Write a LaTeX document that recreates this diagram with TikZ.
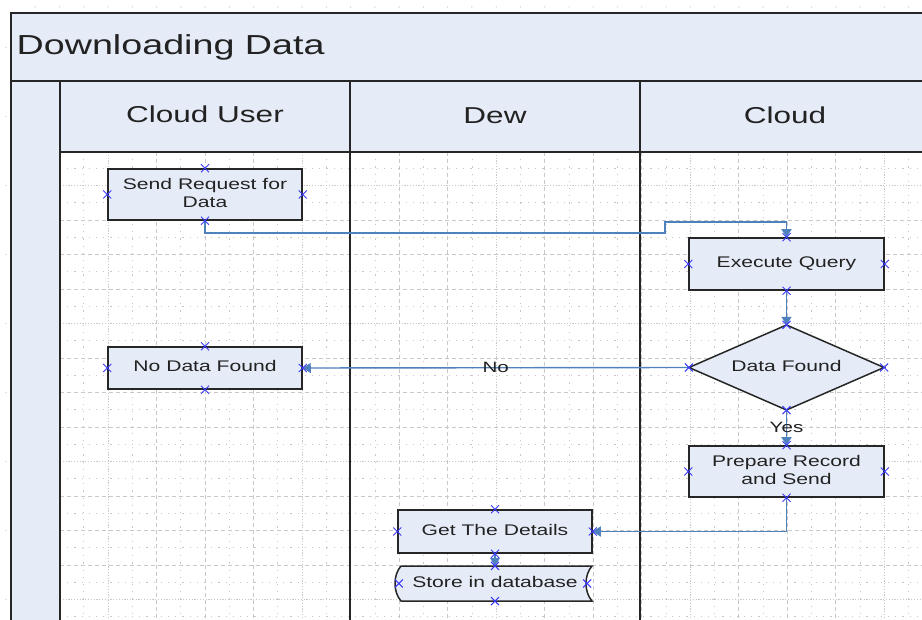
\documentclass[tikz,border=0pt]{standalone}
\usepackage{fontspec}
\usepackage{graphicx}
\setmainfont{Liberation Sans}
\usetikzlibrary{arrows.meta,shapes.misc}

\definecolor{laneFill}{RGB}{230,236,247}
\definecolor{edgeDark}{RGB}{38,38,38}
\definecolor{inkText}{RGB}{34,34,34}
\definecolor{connBlue}{RGB}{79,129,189}
\definecolor{pinBlue}{RGB}{58,58,255}
\definecolor{gridGray}{RGB}{200,200,200}

% wide sans text, as the chart is drawn stretched sideways
\newcommand{\stretched}[1]{\scalebox{1.37}[1]{#1}}
\newcommand{\boxtext}[1]{\stretched{\fontsize{15.4}{18}\selectfont\begin{tabular}{@{}c@{}}#1\end{tabular}}}

\tikzset{
  poolline/.style={draw=edgeDark, line width=1.8pt},
  shapeline/.style={draw=edgeDark, line width=1.5pt, fill=laneFill},
  stepbox/.style={shapeline, text=inkText, rectangle, inner sep=0pt, minimum width=194pt},
  anchorbox/.style={rectangle, inner sep=0pt, text=inkText},
  conn/.style={draw=connBlue, line width=1.4pt, -{Triangle[length=8pt,width=10pt]}},
  lbl/.style={text=inkText, inner sep=1pt, font=\fontsize{15}{18}\selectfont},
  pin/.style={cross out, draw=pinBlue, line width=1pt, minimum size=7pt, inner sep=0pt},
  gdense/.style={draw=gridGray, line width=0.8pt, dash pattern=on 1.2pt off 1.6pt},
  gdash/.style={draw=gridGray, line width=0.8pt, dash pattern=on 4pt off 3pt},
  gsparse/.style={draw=gridGray, line width=0.8pt, dash pattern=on 1.2pt off 6pt},
}

\begin{document}
\begin{tikzpicture}[x=1pt,y=-1pt]
\useasboundingbox (0,0) rectangle (922,620);
\fill[white] (0,0) rectangle (922,620);

% page ruler dots in the margins
\foreach \k in {1,...,37}{
  \fill[gridGray] (11+24.26*\k,7) circle (0.7pt);
}
\foreach \k in {2,6,10,14,18,22,26,30,34}{
  \fill[gridGray] (6,13+17.25*\k) circle (0.7pt);
}

% pool background bands
\fill[laneFill] (11,13) rectangle (922,81);
\fill[laneFill] (11,81) rectangle (60,620);
\fill[laneFill] (60,81) rectangle (922,152);

% drawing grid inside the lanes
\begin{scope}
  \clip (60,152) rectangle (922,620);
  \foreach \k in {2,...,38}{
    \pgfmathsetmacro\xx{11+24.26*\k}
    \pgfmathtruncatemacro\m{mod(\k,8)}
    \pgfmathtruncatemacro\p{mod(\k,2)}
    \ifnum\m=4
      \draw[gdense] (\xx,152) -- (\xx,620);
    \else\ifnum\p=0
      \draw[gdash] (\xx,152) -- (\xx,620);
    \else
      \draw[gsparse] (\xx,152) -- (\xx,620);
    \fi\fi
  }
  \foreach \k in {8,...,36}{
    \pgfmathsetmacro\yy{13+17.25*\k}
    \pgfmathtruncatemacro\m{mod(\k,8)}
    \pgfmathtruncatemacro\p{mod(\k,2)}
    \ifnum\m=2
      \draw[gdense] (60,\yy) -- (922,\yy);
    \else\ifnum\p=0
      \draw[gdash] (60,\yy) -- (922,\yy);
    \else
      \draw[gsparse] (60,\yy) -- (922,\yy);
    \fi\fi
  }
\end{scope}

% pool and lane borders
\draw[poolline] (922,13) -- (11,13) -- (11,620);
\draw[poolline] (11,81) -- (922,81);
\draw[poolline] (60,81) -- (60,620);
\draw[poolline] (60,152) -- (922,152);
\draw[poolline] (350,81) -- (350,620);
\draw[poolline] (640,81) -- (640,620);

% titles
\node[anchor=base west, inner sep=0pt, text=inkText] (title) at (16.5,55)
  {\stretched{\fontsize{27.5}{32}\selectfont Downloading Data}};
\node[anchor=base, inner sep=0pt, text=inkText] (laneUser) at (205,123)
  {\stretched{\fontsize{23}{27}\selectfont Cloud User}};
\node[anchor=base, inner sep=0pt, text=inkText] (laneDew) at (495,123.5)
  {\stretched{\fontsize{23}{27}\selectfont Dew}};
\node[anchor=base, inner sep=0pt, text=inkText] (laneCloud) at (785,123.5)
  {\stretched{\fontsize{23}{27}\selectfont Cloud}};

% process steps
\node[stepbox, minimum height=51pt] (req) at (205,194.5) {\boxtext{Send Request for\\Data}};
\node[stepbox, minimum width=195pt, minimum height=52pt] (exq) at (786.5,264) {\boxtext{Execute Query}};
\node[stepbox, minimum height=42pt] (nodata) at (205,368) {\boxtext{No Data Found}};
\node[stepbox, minimum width=195pt, minimum height=51pt] (prep) at (786.5,471.5) {\boxtext{Prepare Record\\and Send}};
\node[stepbox, minimum height=43pt] (details) at (495,531.5) {\boxtext{Get The Details}};

% decision diamond
\path[shapeline] (786.5,325) -- (884,367.5) -- (786.5,410) -- (689,367.5) -- cycle;
\node[anchorbox, minimum width=195pt, minimum height=85pt] (found) at (786.5,367.5)
  {\boxtext{Data Found}};

% stored data shape
\path[shapeline]
  (401,566) -- (592,566)
  .. controls (584,575) and (584,592) .. (592,601)
  -- (401,601)
  .. controls (393,592) and (393,575) .. (401,566) -- cycle;
\node[anchorbox, minimum width=194pt, minimum height=35pt] (store) at (495,583.5)
  {\boxtext{Store in database}};

% connectors
\coordinate (jogLow) at (665,233);
\coordinate (jogHigh) at (665,222);
\draw[conn] (req.south) |- (jogLow) -- (jogHigh) -| (exq.north);
\draw[conn] (exq.south) -- (found.north);
\draw[conn] (found.west) -- node[lbl] {\stretched{No}} (nodata.east);
\draw[conn] (found.south) -- node[lbl] {\stretched{Yes}} (prep.north);
\draw[conn] (prep.south) |- (details.east);
\draw[conn] (details.south) -- (store.north);

% connection points
\foreach \n in {req,exq,found,nodata,prep,details}{
  \node[pin] at (\n.north) {};
  \node[pin] at (\n.south) {};
  \node[pin] at (\n.west) {};
  \node[pin] at (\n.east) {};
}
\node[pin] at (store.north) {};
\node[pin] at (store.south) {};
\node[pin] at ([xshift=1pt]store.west) {};
\node[pin] at ([xshift=-5pt]store.east) {};
\end{tikzpicture}
\end{document}
